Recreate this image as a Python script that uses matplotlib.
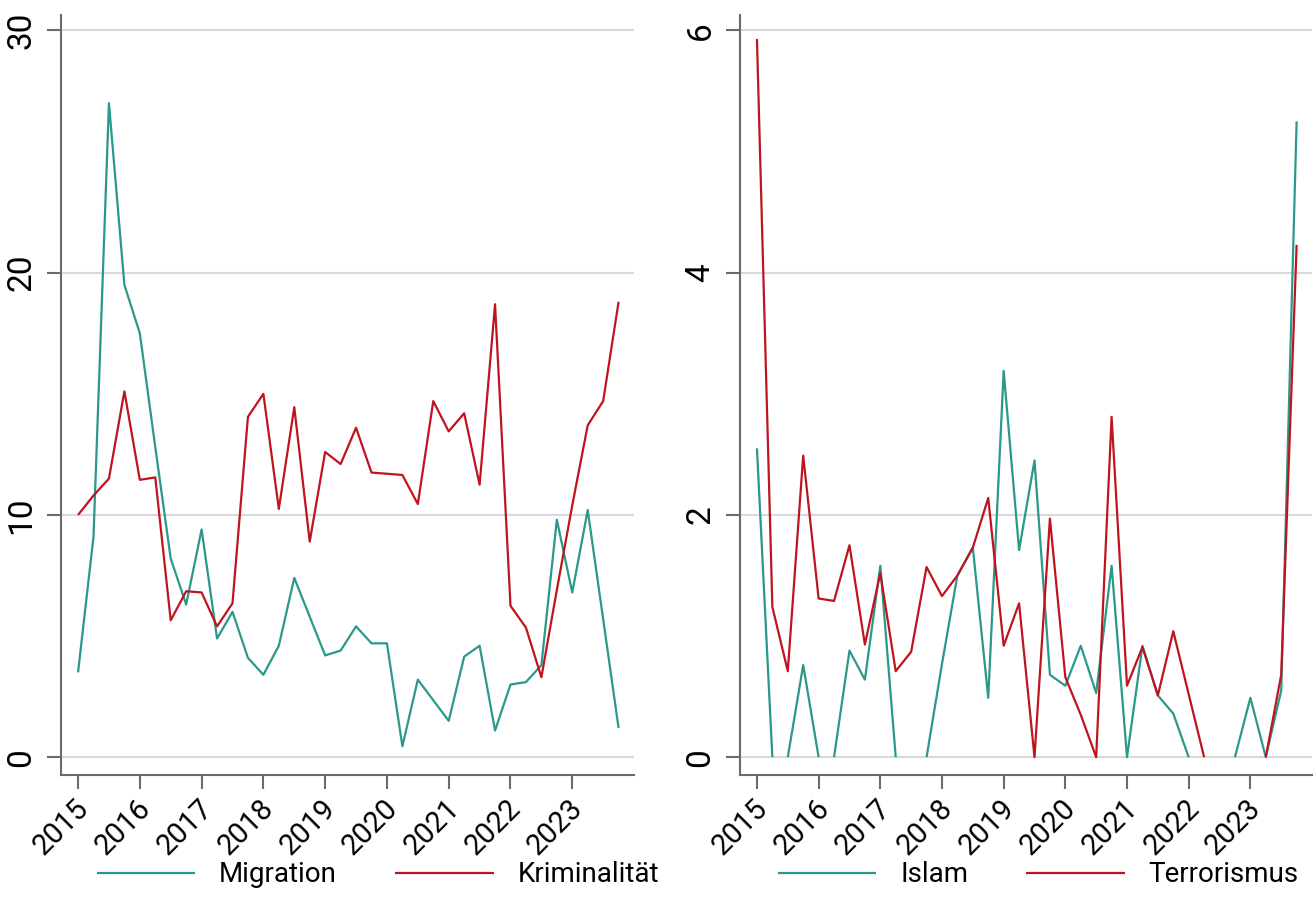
import numpy as np
import matplotlib
matplotlib.use("Agg")
import matplotlib.pyplot as plt

plt.rcParams["font.family"] = ["Roboto", "DejaVu Sans"]

# quartalsdaten 2015 Q1 - 2023 Q4
jahre = list(range(2015, 2024))
quartale = 2015 + np.arange(36) / 4

migration = [3.5, 9.1, 27.0, 19.5, 17.5, 12.8, 8.2, 6.3, 9.4, 4.9, 6.0, 4.1,
             3.4, 4.6, 7.4, 5.8, 4.2, 4.4, 5.4, 4.7, 4.7, 0.45, 3.2, 2.35,
             1.5, 4.15, 4.6, 1.1, 3.0, 3.1, 3.8, 9.8, 6.8, 10.2, 5.7, 1.2]
kriminalitaet = [10.0, 10.8, 11.5, 15.1, 11.45, 11.55, 5.65, 6.85, 6.8, 5.4, 6.35, 14.05,
                 15.0, 10.25, 14.45, 8.9, 12.6, 12.1, 13.6, 11.75, 11.7, 11.65, 10.45, 14.7,
                 13.45, 14.2, 11.25, 18.7, 6.25, 5.35, 3.3, 6.9, 10.4, 13.7, 14.7, 18.8]
islam = [2.55, 0, 0, 0.76, 0, 0, 0.88, 0.64, 1.58, 0, 0, 0,
         0.77, 1.5, 1.73, 0.49, 3.19, 1.71, 2.45, 0.68, 0.59, 0.92, 0.53, 1.58,
         0, 0.92, 0.51, 0.36, 0, 0, 0, 0, 0.49, 0, 0.55, 5.25]
terrorismus = [5.93, 1.24, 0.71, 2.49, 1.31, 1.29, 1.75, 0.93, 1.52, 0.71, 0.87, 1.57,
               1.33, 1.5, 1.73, 2.14, 0.92, 1.27, 0, 1.97, 0.66, 0.35, 0, 2.81,
               0.59, 0.91, 0.51, 1.04, 0.52, 0, 0, 0, 0, 0, 0.68, 4.23]

TEAL = "#2A988B"
ROT = "#BF141F"
GRID = "#D9D9D9"
ACHSE = "#6B6B6B"


def ohne_nullstrecken(x, y):
    # strecken zwischen zwei nullwerten werden nicht gezeichnet
    xs, ys = [], []
    for i in range(len(y)):
        xs.append(x[i])
        ys.append(y[i])
        if i + 1 < len(y) and y[i] == 0 and y[i + 1] == 0:
            xs.append((x[i] + x[i + 1]) / 2)
            ys.append(np.nan)
    return xs, ys


def panel(ax, reihen, namen, yticks, ymax, leg_x):
    for werte, name, farbe in zip(reihen, namen, [TEAL, ROT]):
        xs, ys = ohne_nullstrecken(quartale, werte)
        ax.plot(xs, ys, color=farbe, lw=1.6, label=name, solid_capstyle="butt")
    ax.set_xlim(2014.725, 2024.0)
    ax.set_ylim(-ymax * 0.0245, ymax * 1.0215)
    ax.set_yticks(yticks)
    ax.set_xticks(jahre)
    ax.set_xticklabels([])
    # jahreszahlen schraeg unter die ticks
    for j in jahre:
        ax.annotate(str(j), xy=(j, 0), xycoords=ax.get_xaxis_transform(),
                    xytext=(4.5, -21), textcoords="offset points", rotation=45,
                    ha="right", va="center", rotation_mode="anchor", fontsize=21,
                    annotation_clip=False)
    for lab in ax.get_yticklabels():
        lab.set_rotation(90)
        lab.set_va("center")
    ax.tick_params(axis="y", labelsize=24, length=10, width=1.5, color=ACHSE, pad=7)
    ax.tick_params(axis="x", length=10, width=1.5, color=ACHSE)
    ax.grid(axis="y", color=GRID, lw=1.5)
    ax.set_axisbelow(True)
    for s in ["top", "right"]:
        ax.spines[s].set_visible(False)
    for s in ["left", "bottom"]:
        ax.spines[s].set_color(ACHSE)
        ax.spines[s].set_linewidth(1.5)
    fig.legend(handles=ax.get_lines(), labels=namen, loc="center",
               bbox_to_anchor=(leg_x, 0.047), ncol=2, frameon=False, fontsize=20,
               handlelength=3.55, handletextpad=0.85, columnspacing=2.1)


fig = plt.figure(figsize=(13.16, 9.18), dpi=100)
ax1 = fig.add_axes([0.0464, 0.1558, 0.4354, 0.828])
ax2 = fig.add_axes([0.5623, 0.1558, 0.4347, 0.828])

panel(ax1, [migration, kriminalitaet], ["Migration", "Kriminalität"], [0, 10, 20, 30], 30, 0.287)
panel(ax2, [islam, terrorismus], ["Islam", "Terrorismus"], [0, 2, 4, 6], 6, 0.789)

fig.savefig("out.png", dpi=100)
